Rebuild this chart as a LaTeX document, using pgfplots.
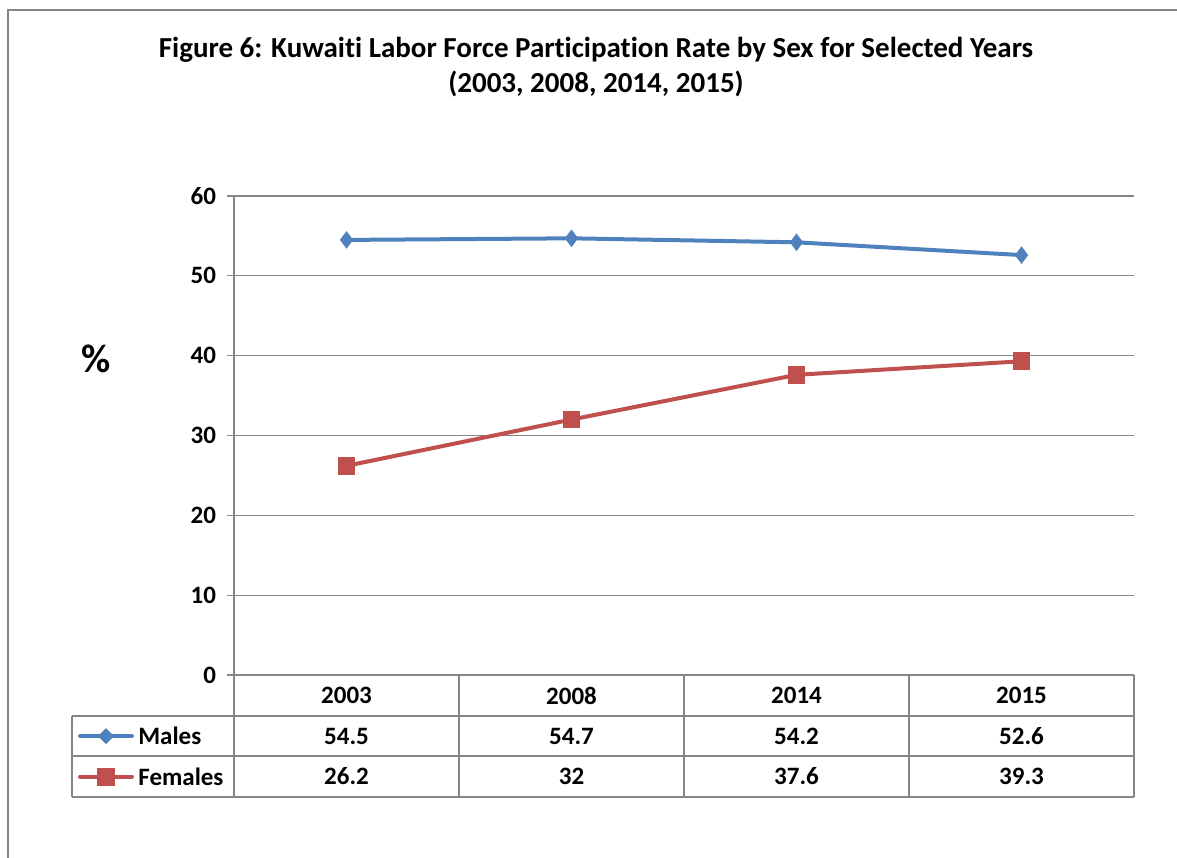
\documentclass[border=0pt]{standalone}
\usepackage{pgfplots}
\pgfplotsset{compat=1.18}
\usepackage{fontspec}
\setmainfont{Carlito}[Ligatures=NoCommon]
\definecolor{mblue}{HTML}{4F81BD}
\definecolor{mred}{HTML}{C0504D}
\definecolor{lgray}{HTML}{868686}
\begin{document}
\begin{tikzpicture}
\useasboundingbox (-117pt,-91pt) rectangle (471.5pt,337.5pt);
\draw[lgray,line width=0.9pt] (-113pt,-95pt) -- (-113pt,332.5pt) -- (475pt,332.5pt);
\begin{axis}[
  at={(0,0)}, anchor=south west,
  scale only axis, width=450pt, height=239.5pt,
  xmin=0, xmax=4, ymin=0, ymax=60,
  xtick=\empty,
  ytick={0,10,20,30,40,50,60},
  axis lines*=left,
  axis line style={lgray, line width=0.6pt, -},
  ymajorgrids, grid style={lgray, line width=0.6pt},
  tick align=outside, major tick length=3.5pt,
  tick style={lgray, line width=0.6pt},
  yticklabel style={font=\fontsize{12.5}{14}\selectfont\bfseries, xshift=-2pt},
  /pgf/number format/assume math mode=true,
  clip=false,
]
\addplot[mblue, line width=2pt, mark=diamond*, mark size=4pt, mark options={fill=mblue, draw=mblue, line width=0.5pt}]
  coordinates {(0.5,54.5) (1.5,54.7) (2.5,54.2) (3.5,52.6)};
\addplot[mred, line width=2pt, mark=square*, mark size=4.2pt, mark options={fill=mred, draw=mred, line width=0.5pt}]
  coordinates {(0.5,26.2) (1.5,32) (2.5,37.6) (3.5,39.3)};
\end{axis}
% data table
\begin{scope}[lgray, line width=0.6pt]
  \draw (-81pt,-20.5pt) -- (450pt,-20.5pt);
  \draw (-81pt,-40.5pt) -- (450pt,-40.5pt);
  \draw (-81pt,-61pt) -- (450pt,-61pt);
  \draw (-81pt,-20.5pt) -- (-81pt,-61pt);
  \foreach \x in {0,112.5,225,337.5,450} \draw (\x pt,0pt) -- (\x pt,-61pt);
\end{scope}
\begin{scope}[font=\fontsize{12.5}{14}\selectfont\bfseries]
  \node at (56.25pt,-10.25pt) {2003};
  \node at (168.75pt,-10.25pt) {2008};
  \node at (281.25pt,-10.25pt) {2014};
  \node at (393.75pt,-10.25pt) {2015};
  \node at (56.25pt,-30.5pt) {54.5};
  \node at (168.75pt,-30.5pt) {54.7};
  \node at (281.25pt,-30.5pt) {54.2};
  \node at (393.75pt,-30.5pt) {52.6};
  \node at (56.25pt,-50.75pt) {26.2};
  \node at (168.75pt,-50.75pt) {32};
  \node at (281.25pt,-50.75pt) {37.6};
  \node at (393.75pt,-50.75pt) {39.3};
  \node[anchor=west, inner sep=0pt] at (-48pt,-30.5pt) {Males};
  \node[anchor=west, inner sep=0pt] at (-48pt,-50.75pt) {Females};
  \draw[mblue, line width=2pt, line cap=round] (-77pt,-30.5pt) -- (-51pt,-30.5pt);
  \fill[mblue] (-64pt,-30.5pt) +(0,4pt) -- +(4pt,0) -- +(0,-4pt) -- +(-4pt,0) -- cycle;
  \draw[mred, line width=2pt, line cap=round] (-77pt,-50.75pt) -- (-51pt,-50.75pt);
  \fill[mred] (-64pt,-50.75pt) +(-4.5pt,-4.5pt) rectangle +(4.5pt,4.5pt);
\end{scope}
% y label
\node[font=\fontsize{20}{22}\selectfont\bfseries] at (-69pt,158pt) {\%};
% title
\node[font=\fontsize{14.5}{17.5}\selectfont\bfseries, align=center] at (181pt,304pt)
  {Figure 6: Kuwaiti Labor Force Participation Rate by Sex for Selected Years\\(2003, 2008, 2014, 2015)};
\end{tikzpicture}
\end{document}
